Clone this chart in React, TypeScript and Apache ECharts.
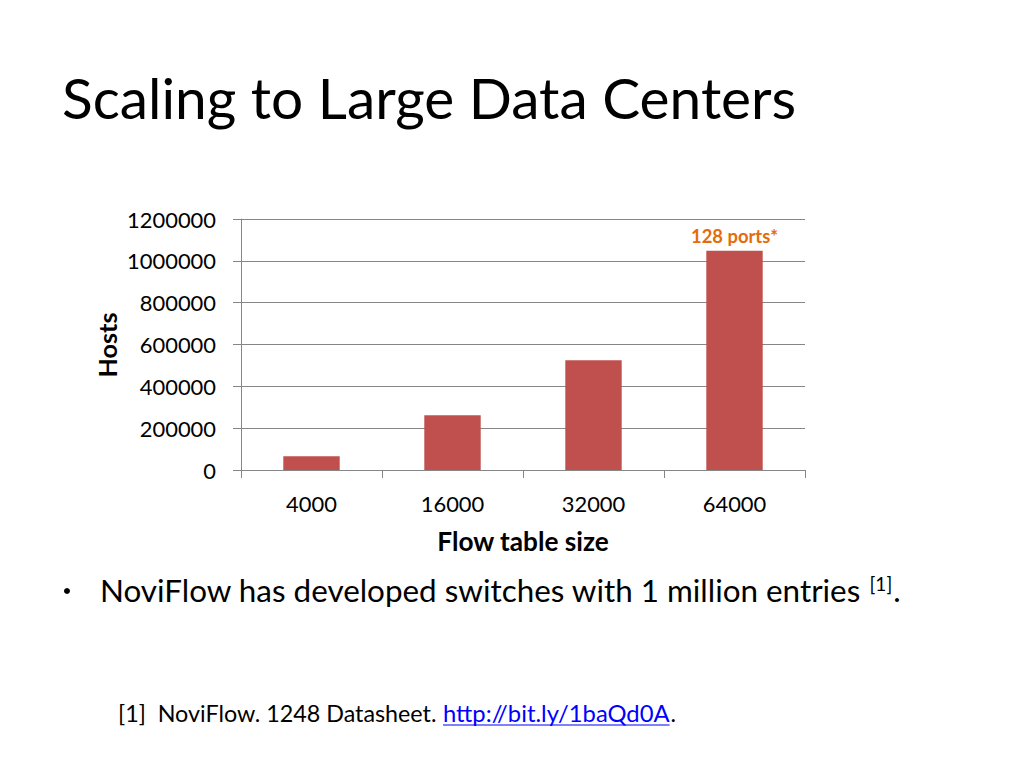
import React, { useEffect, useRef } from "react";
import * as echarts from "echarts";

const categories = ["4000", "16000", "32000", "64000"];
const hosts = [65536, 262144, 524288, 1048576];
const yTicks = [0, 200000, 400000, 600000, 800000, 1000000, 1200000];
const barLabel = "128 ports*";
const title = "Scaling to Large Data Centers";
const bullet = "NoviFlow has developed switches with 1 million entries";
const footPrefix = "[1]  NoviFlow. 1248 Datasheet.";
const footLink = "http://bit.ly/1baQd0A";
const xName = "Flow table size";
const yName = "Hosts";

const FONT = "Lato, 'Open Sans', sans-serif";

function measure(text: string, size: number, weight: string) {
  const c = document.createElement("canvas").getContext("2d")!;
  c.font = `${weight} ${size}px ${FONT}`;
  return c.measureText(text).width;
}
function fit(text: string, target: number, weight = "normal") {
  const w = measure(text, 100, weight);
  return Math.round((100 * target) / w * 10) / 10;
}

export default function App() {
  const ref = useRef<HTMLDivElement>(null);
  useEffect(() => {
    document.body.style.margin = "0";
    const chart = echarts.init(ref.current!, null, { renderer: "svg" });

    const titleSize = fit(title, 734);
    const tickSize = fit("1200000", 89);
    const nameSize = fit(xName, 172, "bold");
    const hostsSize = fit(yName, 65, "bold");
    const barLabelSize = fit(barLabel, 87, "bold");
    const bulletSize = fit(bullet, 762);
    const bulletW = measure(bullet, bulletSize, "normal");
    const supSize = Math.round(bulletSize * 0.62);
    const supW = measure("[1]", supSize, "normal");
    const footSize = fit(footPrefix, 318);
    const linkSize = fit(footLink, 227);
    const linkW = measure(footLink, linkSize, "normal");
    const supX = 100 + bulletW + 8;

    chart.setOption({
      animation: false,
      backgroundColor: "#ffffff",
      textStyle: { fontFamily: FONT },
      grid: { left: 241, right: 219, top: 219, bottom: 298 },
      xAxis: {
        type: "category",
        data: categories,
        axisLine: { lineStyle: { color: "#868686", width: 1 } },
        axisTick: { show: true, length: 8, lineStyle: { color: "#868686" } },
        axisLabel: { color: "#000", fontSize: tickSize, margin: 22, fontFamily: FONT },
      },
      yAxis: {
        type: "value",
        min: yTicks[0],
        max: yTicks[yTicks.length - 1],
        interval: yTicks[1] - yTicks[0],
        axisLine: { show: true, lineStyle: { color: "#868686", width: 1 } },
        axisTick: { show: true, length: 8, lineStyle: { color: "#868686" } },
        splitLine: { lineStyle: { color: "#868686", width: 1 } },
        axisLabel: {
          color: "#000",
          fontSize: tickSize,
          margin: 25,
          fontFamily: FONT,
          formatter: (v: number) => String(v),
        },
      },
      series: [
        {
          type: "bar",
          barWidth: "40%",
          itemStyle: { color: "#C0504D" },
          data: hosts.map((v, i) =>
            i === hosts.length - 1
              ? {
                  value: v,
                  label: {
                    show: true,
                    position: "top",
                    distance: 6,
                    formatter: barLabel,
                    color: "#E46C0A",
                    fontWeight: "bold",
                    fontSize: barLabelSize,
                    fontFamily: FONT,
                  },
                }
              : v
          ),
        },
      ],
      graphic: [
        {
          type: "text",
          x: 62,
          y: 97,
          style: { text: title, fontSize: titleSize, fontFamily: FONT, fill: "#000", verticalAlign: "middle" },
        },
        {
          type: "text",
          x: 107,
          y: 345,
          rotation: Math.PI / 2,
          style: {
            text: yName,
            fontSize: hostsSize,
            fontWeight: "bold",
            fontFamily: FONT,
            fill: "#000",
            align: "center",
            verticalAlign: "middle",
          },
        },
        {
          type: "text",
          x: 523,
          y: 541,
          style: {
            text: xName,
            fontSize: nameSize,
            fontWeight: "bold",
            fontFamily: FONT,
            fill: "#000",
            align: "center",
            verticalAlign: "middle",
          },
        },
        {
          type: "circle",
          shape: { cx: 67, cy: 591, r: 3 },
          style: { fill: "#000" },
        },
        {
          type: "text",
          x: 100,
          y: 590,
          style: { text: bullet, fontSize: bulletSize, fontFamily: FONT, fill: "#000", verticalAlign: "middle" },
        },
        {
          type: "text",
          x: supX,
          y: 583,
          style: { text: "[1]", fontSize: supSize, fontFamily: FONT, fill: "#000", verticalAlign: "middle" },
        },
        {
          type: "text",
          x: supX + supW + 1,
          y: 590,
          style: { text: ".", fontSize: bulletSize, fontFamily: FONT, fill: "#000", verticalAlign: "middle" },
        },
        {
          type: "text",
          x: 118,
          y: 713,
          style: { text: footPrefix, fontSize: footSize, fontFamily: FONT, fill: "#000", verticalAlign: "middle" },
        },
        {
          type: "text",
          x: 443,
          y: 713,
          style: { text: footLink, fontSize: linkSize, fontFamily: FONT, fill: "#0000FF", verticalAlign: "middle" },
        },
        {
          type: "line",
          shape: { x1: 443, y1: 725, x2: 443 + linkW, y2: 725 },
          style: { stroke: "#0000FF", lineWidth: 1 },
        },
        {
          type: "text",
          x: 443 + linkW + 1,
          y: 713,
          style: { text: ".", fontSize: footSize, fontFamily: FONT, fill: "#000", verticalAlign: "middle" },
        },
      ],
    });
    return () => chart.dispose();
  }, []);
  return <div ref={ref} style={{ width: 1024, height: 768 }} />;
}
